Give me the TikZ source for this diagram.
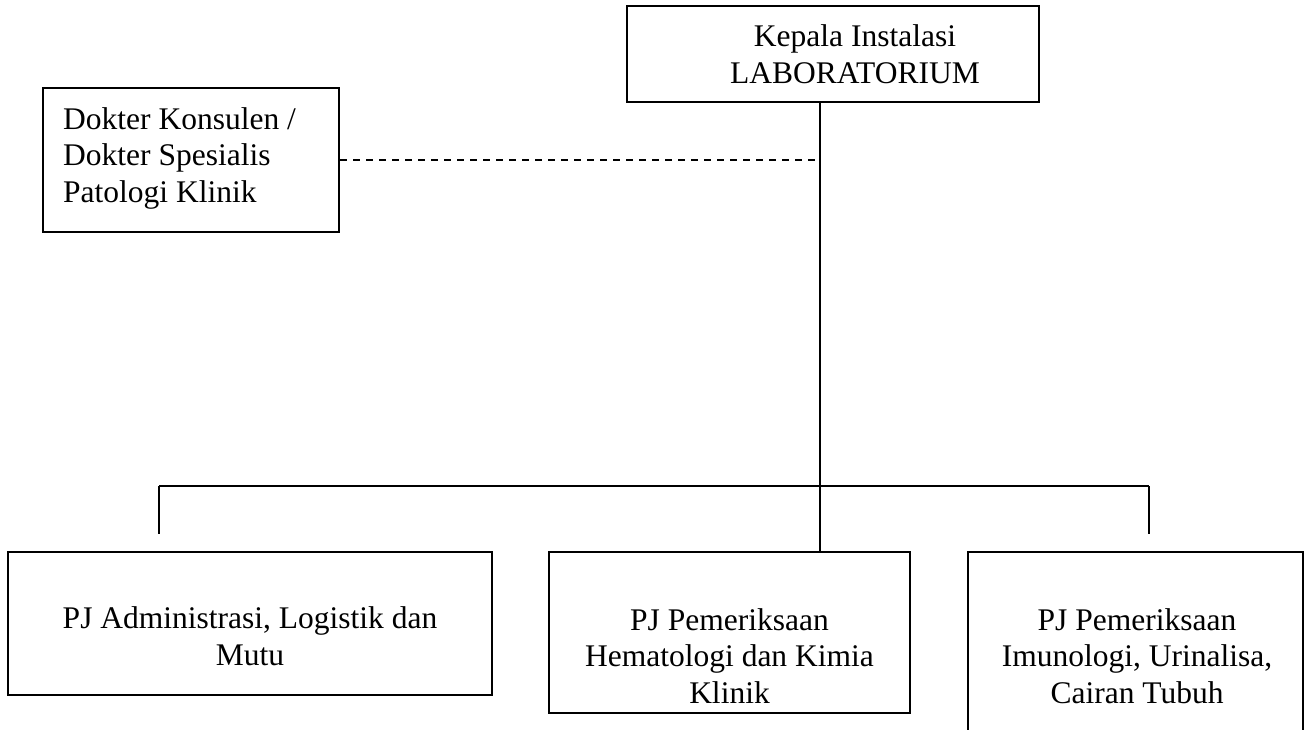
\documentclass[tikz,border=0pt]{standalone}
\usepackage{fontspec}
\setmainfont{Liberation Serif}
\begin{document}
\begin{tikzpicture}[x=1pt,y=-1pt,
  box/.style={draw=black,line width=2pt,rectangle,inner sep=0pt},
  txt/.style={inner sep=0pt,font=\fontsize{31.5}{36.5}\selectfont},
  conn/.style={draw=black,line width=2pt},
  dashconn/.style={draw=black,line width=2pt,dash pattern=on 7pt off 6pt}]
\useasboundingbox (0,0) rectangle (1309,729);
\clip (0,0) rectangle (1309,729);
\fill[white] (0,0) rectangle (1309,729);

% boxes
\node[box,minimum width=412pt,minimum height=96pt] (head) at (833,54) {};
\node[box,minimum width=296pt,minimum height=144pt] (dok) at (191,160) {};
\node[box,minimum width=484pt,minimum height=143pt] (adm) at (250,623.5) {};
\node[box,minimum width=361pt,minimum height=161pt] (hem) at (729.5,632.5) {};
\node[box,minimum width=335pt,minimum height=220pt] (imu) at (1135.5,662) {};

% texts (anchored at the baseline of the last line)
\node[txt,anchor=base,align=center] (head-t) at (855,83) {Kepala Instalasi\\LABORATORIUM};
\node[txt,anchor=base west,align=left] (dok-t) at (63,202) {Dokter Konsulen /\\Dokter Spesialis\\Patologi Klinik};
\node[txt,anchor=base,align=center] (adm-t) at (250,665) {PJ Administrasi, Logistik dan\\Mutu};
\node[txt,anchor=base,align=center] (hem-t) at (729.5,703) {PJ Pemeriksaan\\Hematologi dan Kimia\\Klinik};
\node[txt,anchor=base,align=center] (imu-t) at (1137,703) {PJ Pemeriksaan\\Imunologi, Urinalisa,\\Cairan Tubuh};

% connector points
\coordinate (hub) at (819.5,486);
\coordinate (busL) at (159,486);
\coordinate (busR) at (1149,486);
\coordinate (dropL) at (159,534);
\coordinate (dropR) at (1149,534);

% connectors
\draw[conn] (head.south -| hub) -- (hem.north -| hub);
\draw[conn] (busL) -- (busR);
\draw[conn] (busL) -- (dropL);
\draw[conn] (busR) -- (dropR);
\draw[dashconn] (dok.east) -- (dok.east -| hub);
\end{tikzpicture}
\end{document}
